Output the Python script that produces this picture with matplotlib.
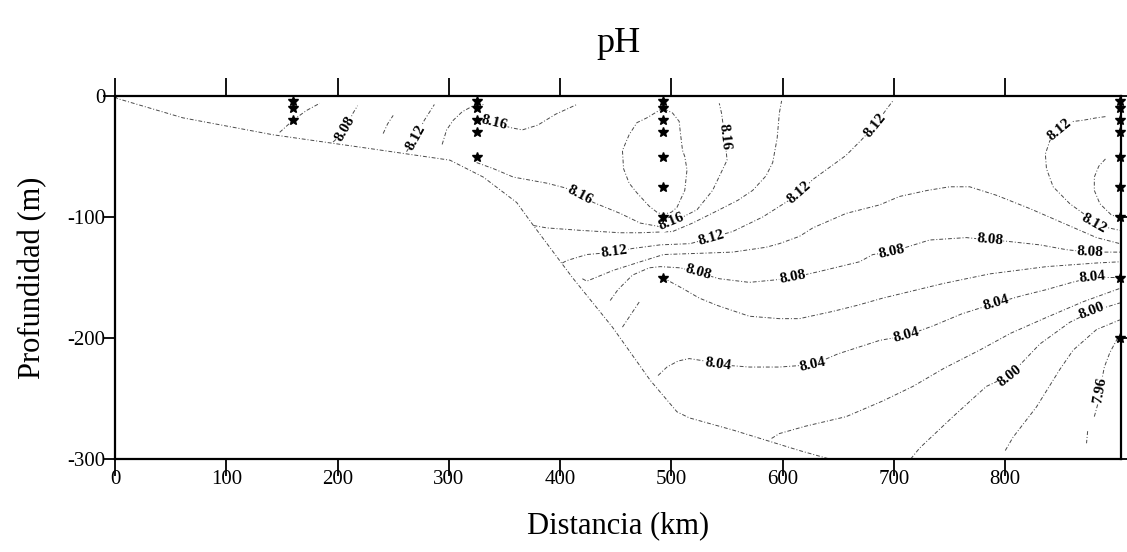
import numpy as np
import matplotlib
matplotlib.use("Agg")
import matplotlib.pyplot as plt

plt.rcParams['font.family'] = ['Liberation Serif', 'DejaVu Serif']
plt.rcParams['axes.unicode_minus'] = False

# ---------------- text ----------------
title = "pH"
xlabel = "Distancia (km)"
ylabel = "Profundidad (m)"
xticks = [0, 100, 200, 300, 400, 500, 600, 700, 800]
yticks = [0, -100, -200, -300]

# ---------------- stations (km) and sample depths (m) ----------------
st_km = [160, 325, 492, 903]
st1_z = [-4, -10, -20]
st2_z = [-4, -10, -20, -30, -50]
st3_z = [-4, -10, -20, -30, -50, -75, -100, -150]
st4_z = [-4, -10, -20, -30, -50, -75, -100, -150, -200]

# ---------------- bottom topography ----------------
topo_km = [0, 2, 61, 142, 226, 301, 331, 361, 376, 411, 447, 481, 505, 516, 555, 615, 642]
topo_z = [0, -2, -18, -32, -43, -53, -67, -88, -107, -150, -191, -235, -261, -266, -276, -293, -300]

# ---------------- contour lines ----------------
c806a_km = [148, 154, 160, 172, 184]
c806a_z = [-30, -25, -20, -12, -6]
c808a_km = [196, 202, 207, 214, 218]
c808a_z = [-38, -33, -27, -14, -8]
c810a_km = [241, 245, 250]
c810a_z = [-31, -23, -16]
c812a_km = [262, 266, 270, 278, 287]
c812a_z = [-46, -40, -34, -20, -7]
c814a_km = [294, 298, 304, 312, 322, 331]
c814a_z = [-40, -28, -20, -13, -8, -7]
c816a_km = [328, 341, 355, 366, 380, 396, 415]
c816a_z = [-20, -22, -26, -28, -24, -15, -7]
c816b_km = [325, 340, 358, 388, 405, 418, 430, 454, 472, 490, 500, 508, 523, 537, 550, 548, 545, 543]
c816b_z = [-55, -60, -67, -72, -76, -82, -88, -97, -105, -108, -104, -101, -94, -78, -53, -34, -14, -6]
c818_km = [492, 487, 478, 469, 462, 456, 457, 462, 469, 480, 487, 492, 500, 505, 512, 514, 512, 510, 508, 507, 501, 492]
c818_z = [-10, -13, -18, -22, -32, -45, -60, -72, -80, -91, -96, -98, -96, -92, -78, -61, -50, -45, -30, -21, -14, -10]
c814b_km = [376, 388, 418, 454, 472, 501, 519, 543, 560, 573, 585, 591, 595, 597, 599]
c814b_z = [-107, -109, -111, -113, -113, -112, -105, -94, -86, -78, -66, -55, -35, -14, -4]
c812b_km = [402, 406, 424, 449, 465, 490, 517, 536, 555, 582, 606, 615, 627, 657, 671, 683, 694, 699]
c812b_z = [-138, -136, -131, -129, -126, -123, -122, -117, -112, -100, -86, -80, -69, -49, -36, -24, -10, -4]
c810b_km = [420, 424, 448, 472, 493, 525, 555, 585, 597, 615, 627, 657, 687, 705, 730, 750, 768, 792, 822, 852, 882, 903]
c810b_z = [-151, -153, -144, -137, -131, -130, -129, -125, -122, -116, -109, -97, -90, -83, -78, -75, -75, -82, -93, -105, -117, -122]
c812c_km = [890, 882, 870, 861, 849, 840, 836, 837, 843, 858, 870, 880, 893, 903]
c812c_z = [-17, -18, -20, -21, -28, -37, -48, -60, -75, -89, -97, -105, -109, -111]
c814c_km = [890, 884, 880, 880, 885, 895, 903]
c814c_z = [-52, -58, -67, -78, -89, -98, -101]
c808b_km = [445, 452, 465, 480, 490, 508, 524, 543, 570, 593, 609, 633, 669, 681, 698, 711, 732, 765, 786, 801, 831, 855, 876, 903]
c808b_z = [-169, -160, -148, -142, -141, -142, -146, -151, -154, -152, -150, -145, -137, -131, -129, -125, -119, -117, -119, -120, -123, -127, -129, -129]
c806b_km = [456, 464, 472]
c806b_z = [-191, -180, -169]
c806c_km = [492, 500, 510, 525, 541, 570, 597, 615, 645, 667, 690, 744, 786, 837, 882, 903]
c806c_z = [-150, -154, -159, -167, -173, -182, -184, -184, -178, -173, -167, -155, -147, -141, -138, -137]
c804_km = [488, 496, 506, 516, 530, 542, 570, 597, 627, 650, 687, 711, 735, 761, 792, 815, 837, 860, 878, 903]
c804_z = [-231, -224, -219, -217, -219, -222, -224, -224, -222, -213, -202, -198, -190, -180, -171, -165, -160, -154, -150, -150]
c802_km = [590, 597, 620, 657, 690, 717, 745, 777, 805, 837, 870, 903]
c802_z = [-283, -279, -273, -265, -252, -240, -225, -210, -196, -183, -170, -159]
c800_km = [715, 723, 753, 783, 804, 831, 858, 878, 903]
c800_z = [-300, -291, -265, -240, -231, -205, -187, -178, -171]
c798_km = [800, 807, 828, 849, 861, 882, 903]
c798_z = [-293, -282, -257, -226, -210, -193, -185]
c796a_km = [901, 894, 889, 885, 883, 880]
c796a_z = [-200, -212, -224, -243, -255, -265]
c796b_km = [874, 873]
c796b_z = [-277, -287]

# (level text, km, depth, vertex indices that carry a label)
contours = [
    ("8.06", c806a_km, c806a_z, []),
    ("8.08", c808a_km, c808a_z, [2]),
    ("8.10", c810a_km, c810a_z, []),
    ("8.12", c812a_km, c812a_z, [2]),
    ("8.14", c814a_km, c814a_z, []),
    ("8.16", c816a_km, c816a_z, [1]),
    ("8.16", c816b_km, c816b_z, [5, 10, 15]),
    ("8.18", c818_km, c818_z, []),
    ("8.14", c814b_km, c814b_z, []),
    ("8.12", c812b_km, c812b_z, [3, 7, 11, 15]),
    ("8.10", c810b_km, c810b_z, []),
    ("8.12", c812c_km, c812c_z, [4, 11]),
    ("8.14", c814c_km, c814c_z, []),
    ("8.08", c808b_km, c808b_z, [6, 10, 14, 18, 22]),
    ("8.06", c806b_km, c806b_z, []),
    ("8.06", c806c_km, c806c_z, []),
    ("8.04", c804_km, c804_z, [5, 8, 11, 14, 18]),
    ("8.02", c802_km, c802_z, []),
    ("8.00", c800_km, c800_z, [4, 7]),
    ("7.98", c798_km, c798_z, []),
    ("7.96", c796a_km, c796a_z, [3]),
    ("7.96", c796b_km, c796b_z, []),
]

# ---------------- figure ----------------
fig = plt.figure(figsize=(11.27, 5.52), dpi=100)
ax = fig.add_axes([0.102, 0.1685, 0.8927, 0.6575])
ax.set_xlim(0, 904)
ax.set_ylim(-300, 0)

line_kw = dict(color='#4a4a4a', lw=0.7, linestyle=(0, (4, 2, 1, 2)))

ax.plot(topo_km, topo_z, **line_kw)

for lev, xs, zs, labs in contours:
    ax.plot(xs, zs, **line_kw)

# contour labels, rotated along the line
fig.canvas.draw()
for lev, xs, zs, labs in contours:
    pts = ax.transData.transform(np.column_stack([xs, zs]))
    for i in labs:
        a = pts[max(i - 1, 0)]
        b = pts[min(i + 1, len(xs) - 1)]
        ang = np.degrees(np.arctan2(b[1] - a[1], b[0] - a[0]))
        if ang > 90:
            ang -= 180
        elif ang <= -90:
            ang += 180
        ax.text(xs[i], zs[i], lev, rotation=ang, rotation_mode='anchor',
                ha='center', va='center', fontsize=11, fontweight='bold',
                bbox=dict(facecolor='white', edgecolor='none', pad=0.2), zorder=4)

# stations
for km, zs in zip(st_km, [st1_z, st2_z, st3_z, st4_z]):
    ax.plot([km] * len(zs), zs, linestyle='none', marker='*', color='black',
            markersize=7.5, clip_on=False, zorder=5)

for s in ax.spines.values():
    s.set_linewidth(1.6)

ax.set_xticks(xticks)
ax.set_xticklabels([str(v) for v in xticks])
ax.set_yticks(yticks)
ax.set_yticklabels([str(v) for v in yticks])
ax.tick_params(axis='x', direction='out', length=12, width=1.3,
               pad=-4, labelsize=15, top=True, labeltop=False)
for t in ax.xaxis.get_major_ticks():
    t.tick2line.set_markersize(13)
ax.tick_params(axis='y', direction='out', length=9, width=1.3, pad=-2,
               labelsize=15, right=True)
for t in ax.yaxis.get_major_ticks():
    t.tick2line.set_markersize(4)

ax.set_title(title, fontsize=26, pad=32)
ax.set_xlabel(xlabel, fontsize=22, labelpad=16)
ax.set_ylabel(ylabel, fontsize=22, labelpad=14)

fig.savefig("out.png", dpi=100)
